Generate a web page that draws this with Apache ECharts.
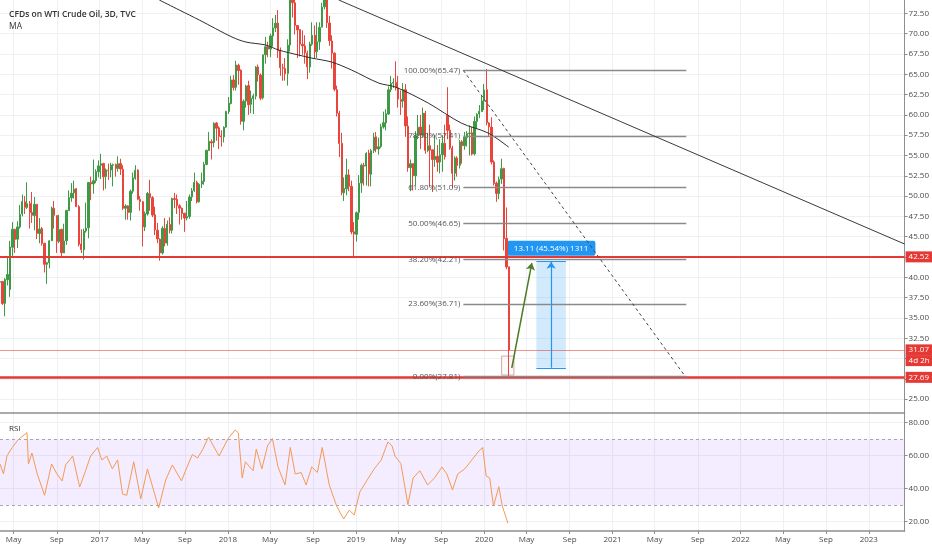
<!DOCTYPE html>
<html>
<head>
<meta charset="utf-8">
<script src="https://cdn.jsdelivr.net/npm/echarts@6/dist/echarts.min.js"></script>
<style>
  html, body { margin: 0; padding: 0; background: #fff; }
  #chart { width: 932px; height: 550px; }
</style>
</head>
<body>
<div id="chart"></div>
<script>
// weekly candles [open, close, low, high]; each block starts on the Monday in weekStarts
const weekStarts = ['2016-03-21', '2017-01-02', '2018-01-01', '2019-01-07', '2020-01-06'];

const w2016 = [
  [39.4,39.46,38.9,41.2],[39.5,36.79,36.6,39.5],[36.8,39.72,35.2,39.9],[39.7,40.36,39.0,42.4],
  [38.5,43.73,37.6,44.5],[43.7,45.92,42.6,46.8],[45.9,44.66,43.0,46.0],[44.7,46.21,43.6,46.9],
  [46.2,47.75,46.0,48.9],[47.8,49.33,47.5,50.2],[49.3,48.62,47.8,50.0],[48.6,49.07,48.4,51.7],
  [49.1,47.98,46.0,49.4],[48.0,47.64,46.7,50.5],[47.6,48.99,45.8,49.9],[49.0,45.41,44.7,49.0],
  [45.4,45.95,44.2,47.3],[46.0,44.19,43.9,46.2],[44.2,41.60,40.6,44.2],[41.6,41.80,39.2,41.9],
  [41.8,44.49,41.1,44.6],[44.5,48.52,44.5,48.7],[48.5,47.64,46.0,49.4],[47.6,44.44,43.0,47.6],
  [44.4,45.88,44.2,47.7],[45.9,43.03,42.6,46.0],[43.0,44.48,43.0,46.6],[44.5,48.24,44.0,48.3],
  [48.2,49.81,48.2,50.7],[49.8,50.35,49.3,51.6],[50.4,50.85,49.7,51.9],[50.9,48.70,48.7,51.0],
  [48.7,44.07,43.8,48.9],[44.1,43.41,43.0,45.9],[43.4,45.69,42.2,46.0],[45.7,46.06,45.5,49.2],
  [46.1,51.68,44.8,51.7],[51.7,51.50,49.5,52.4],[51.5,51.90,50.3,54.5],[51.9,53.02,51.6,53.3],
  [53.0,53.72,52.3,54.4]
];
const w2017 = [
  [53.8,53.99,52.1,55.2],[54.0,52.37,50.7,54.1],[52.4,53.22,50.9,53.4],[53.2,53.17,52.0,54.0],
  [53.2,53.83,52.3,54.1],[53.8,53.86,51.2,54.0],[53.9,53.40,52.4,54.0],[53.4,53.99,53.0,54.9],
  [54.0,53.33,52.6,54.6],[53.3,48.49,48.3,53.8],[48.5,48.78,47.1,49.0],[48.8,47.97,47.1,48.9],
  [48.0,50.60,47.0,50.8],[50.6,52.24,50.3,52.9],[52.2,53.18,52.0,53.8],[53.2,49.62,49.5,53.3],
  [49.6,49.33,48.2,50.0],[49.3,46.22,43.8,49.4],[46.2,47.84,45.7,48.1],[47.8,50.33,47.6,50.5],
  [50.3,49.80,48.2,52.0],[49.8,47.66,47.4,50.0],[47.7,45.83,45.2,48.7],[45.8,44.74,44.2,46.7],
  [44.7,43.01,42.05,44.8],[43.0,46.04,42.8,46.3],[46.0,44.23,43.8,47.3],[44.2,46.54,43.9,47.0],
  [46.5,45.77,45.4,47.4],[45.8,49.71,45.4,49.8],[49.7,49.58,48.5,50.4],[49.6,48.82,47.8,50.2],
  [48.8,48.51,46.5,49.0],[48.5,47.87,47.1,48.6],[47.9,47.29,45.6,47.9],[47.3,47.48,47.0,49.4],
  [47.5,49.89,47.2,50.2],[49.9,50.66,49.4,51.0],[50.7,51.67,50.5,52.9],[51.7,49.29,49.1,51.9],
  [49.3,51.45,49.2,51.6],[51.5,51.84,51.0,52.9],[51.8,53.90,51.4,54.2],[53.9,55.64,53.8,55.7],
  [55.6,56.74,55.6,57.9],[56.7,56.55,54.5,57.0],[56.6,58.95,56.0,59.1],[59.0,58.36,56.8,59.1],
  [58.4,57.36,55.8,58.6],[57.4,57.30,56.1,58.1],[57.3,58.47,56.6,58.6],[58.5,60.42,58.4,60.5]
];
const w2018 = [
  [60.4,61.44,60.1,62.2],[61.4,64.30,61.3,64.8],[64.3,63.37,63.0,64.9],[63.4,66.14,63.0,66.66],
  [66.1,65.45,63.7,66.3],[65.5,59.20,58.8,65.6],[59.2,61.68,58.1,61.9],[61.7,63.55,60.9,63.7],
  [63.6,61.25,60.0,64.2],[61.3,62.04,60.2,63.0],[62.0,62.34,60.1,62.6],[62.3,65.88,61.9,66.0],
  [65.9,64.94,64.1,66.2],[64.9,62.06,61.8,65.1],[62.1,67.39,61.9,67.4],[67.4,68.38,66.3,69.6],
  [68.4,68.10,67.1,69.0],[68.1,69.72,67.1,70.0],[69.7,70.70,68.4,71.9],[70.7,71.28,70.2,72.3],
  [71.3,67.88,67.0,72.9],[67.9,65.81,64.8,68.3],[65.8,65.74,64.2,66.3],[65.7,65.06,64.2,67.0],
  [65.1,68.58,63.6,69.3],[68.6,74.15,67.8,74.5],[74.2,73.80,72.0,75.3],[73.8,71.01,69.9,74.7],
  [71.0,70.46,67.0,71.0],[70.5,68.69,67.2,70.5],[68.7,68.49,67.4,70.4],[68.5,67.63,66.3,69.8],
  [67.6,65.91,64.4,67.9],[65.9,68.72,65.2,69.0],[68.7,69.80,68.5,71.4],[69.8,67.75,66.9,71.0],
  [67.8,68.99,67.0,71.4],[69.0,70.78,68.0,71.4],[70.8,73.25,70.8,73.8],[73.3,74.34,73.0,76.9],
  [74.3,71.34,70.7,75.9],[71.3,69.12,68.5,72.2],[69.1,67.59,65.7,69.8],[67.6,63.14,62.9,67.7],
  [63.1,60.19,59.8,63.6],[60.2,56.46,54.8,60.5],[56.5,50.42,50.1,57.8],[50.4,50.93,49.4,52.3],
  [50.9,52.61,50.1,54.6],[52.6,51.20,50.6,53.3],[51.2,45.59,45.3,51.9],[45.6,45.33,42.36,46.8],
  [45.3,47.96,44.4,48.1]
];
const w2019 = [
  [48.0,51.59,47.1,52.6],[51.6,53.80,50.4,54.0],[53.8,53.69,51.3,54.1],[53.7,55.26,51.3,55.4],
  [55.3,52.72,51.2,55.7],[52.7,55.59,51.2,55.8],[55.6,57.26,55.3,57.8],[57.3,55.80,55.4,57.9],
  [55.8,56.07,55.1,57.2],[56.1,58.52,55.9,58.9],[58.5,59.04,58.3,60.4],[59.0,60.14,58.1,60.7],
  [60.1,63.08,60.0,63.5],[63.1,63.89,62.8,64.8],[63.9,64.00,63.3,64.5],[64.0,63.30,63.0,66.6],
  [63.3,61.94,60.9,64.8],[61.9,61.66,60.0,63.0],[61.7,63.10,60.9,63.9],[63.1,58.63,57.3,63.8],
  [58.6,53.50,53.0,59.8],[53.5,53.99,50.6,54.5],[54.0,52.51,50.7,54.0],[52.5,57.43,51.3,58.0],
  [57.4,58.47,57.0,60.0],[58.5,57.51,55.8,60.0],[57.5,60.21,57.2,60.9],[60.2,55.63,55.2,60.5],
  [55.6,56.20,55.4,57.8],[56.2,55.66,51.2,58.8],[55.7,54.50,50.5,55.7],[54.5,54.87,53.6,57.5],
  [54.9,54.17,53.0,56.3],[54.2,55.10,52.8,57.0],[55.1,56.52,53.0,57.5],[56.5,54.85,54.5,58.8],
  [59.9,58.09,57.0,63.4],[58.1,55.91,55.7,58.8],[55.9,52.81,51.0,56.2],[52.8,54.70,51.9,54.9],
  [54.7,53.78,52.4,54.9],[53.8,56.66,53.4,56.9],[56.7,56.20,54.0,56.9],[56.2,57.24,55.7,57.9],
  [57.2,57.72,56.1,58.0],[57.7,57.77,55.0,58.7],[57.8,55.17,55.0,58.5],[55.2,59.20,55.0,59.8],
  [59.2,60.07,58.3,60.2],[60.1,60.44,59.6,61.2],[60.4,61.72,60.4,62.3],[61.7,63.05,60.6,63.8]
];
const w2020 = [
  [63.1,59.04,58.7,65.65],[59.0,58.54,57.4,59.1],[58.5,54.19,53.9,59.7],[54.2,51.56,51.3,54.4],
  [51.6,50.32,49.3,51.8],[50.3,52.05,49.6,52.4],[52.1,53.38,51.5,54.6],[53.4,44.76,43.3,53.5],
  [44.8,41.28,41.0,48.6],[41.3,31.07,27.81,41.3]
];

// curve labelled "MA"
const maDates = ['2017-06-20','2017-08-16','2017-10-12','2018-01-13','2018-02-22','2018-04-19',
  '2018-05-26','2018-07-22','2018-08-28','2018-10-24','2018-12-20','2019-03-07','2019-04-24',
  '2019-07-26','2019-10-28','2020-01-13','2020-03-11'];
const maValues = [74.13,72.9,71.67,69.58,68.96,68.6,67.98,67.36,66.99,66.5,65.51,63.91,63.42,
  61.45,58.99,57.76,56.03];

// RSI
const rsiDates = ['2016-03-23','2016-04-02','2016-04-12','2016-04-27','2016-05-13','2016-05-21',
  '2016-06-08','2016-06-12','2016-06-22','2016-07-07','2016-07-28','2016-08-17','2016-09-01',
  '2016-09-16','2016-09-26','2016-10-16','2016-11-05','2016-11-22','2016-12-06','2016-12-26',
  '2017-01-07','2017-01-21','2017-02-06','2017-02-21','2017-03-07','2017-03-19','2017-04-08',
  '2017-04-28','2017-05-17','2017-06-18','2017-07-08','2017-07-27','2017-08-22','2017-09-07',
  '2017-09-22','2017-10-07','2017-10-22','2017-11-07','2017-11-21','2017-12-07',
  '2018-01-02','2018-01-22','2018-01-31','2018-02-11','2018-02-20','2018-03-14','2018-03-23',
  '2018-04-08','2018-04-24','2018-05-08','2018-05-24','2018-06-13','2018-06-28','2018-07-12',
  '2018-07-29','2018-08-12','2018-08-28','2018-09-13','2018-09-27','2018-10-17','2018-11-07',
  '2018-11-27','2018-12-13','2018-12-27',
  '2019-01-12','2019-02-02','2019-02-22','2019-03-14','2019-04-02','2019-04-14','2019-04-22',
  '2019-05-09','2019-05-29','2019-06-13','2019-07-02','2019-07-24','2019-08-13','2019-09-03',
  '2019-09-17','2019-10-03','2019-10-18','2019-11-07','2019-11-27','2019-12-17','2019-12-28',
  '2020-01-07','2020-01-17','2020-01-28','2020-02-12','2020-02-22','2020-03-09'];
const rsiValues = [55,49,60,65,69.5,71,74,55,61.6,49,36,55,49,44.7,54.4,59.8,41,51,59.8,65,
  57.4,59.8,52,57.4,36.8,36,56.3,33.8,52,28.3,45.3,54.4,44.7,53.2,60.7,58.6,64,71.3,65.9,59.8,
  70.4,75.6,73.8,46.5,56.3,50.9,64,52,65.9,70.4,53.2,42.3,65,48.9,49.8,42.3,53.2,49.8,65,42.3,
  29.5,21.6,27,24,
  38,45.3,52,57.4,68.3,65.9,59.8,55.2,30.4,46.5,50.9,42.3,46.5,53.2,48.9,39.2,48.9,52,57.4,
  62.8,65,
  47.7,46.5,29.5,41.2,29.5,19];

// fibonacci retracement drawing
const fibLevels = ['100.00%', '78.60%', '61.80%', '50.00%', '38.20%', '23.60%', '0.00%'];
const fibPrices = [65.47, 57.41, 51.09, 46.65, 42.21, 36.71, 27.81];
const fibSpan = ['2019-11-03', '2021-07-30'];

// other drawings: [date, price] anchors
const trendLine = [['2018-11-13', 74.14], ['2023-04-13', 44.1]];
const fibDiagonal = [['2019-11-03', 65.47], ['2021-07-27', 27.81]];
const greenArrow = [['2020-03-20', 28.84], ['2020-05-16', 41.76]];
const rangeBox = [['2020-05-29', 41.92], ['2020-08-21', 28.87]];
const rangeMid = '2020-07-10';
const rangeText = '13.11 (45.54%) 1311';
const candleBox = [['2020-02-20', 30.31], ['2020-03-26', 27.97]];

const levelSupport = 27.69, levelResist = 42.52, lastPrice = 31.07, countdownAt = 29.75;

// axis ticks
const xTickDates = ['2016-05-01','2016-09-01','2017-01-01','2017-05-01','2017-09-01','2018-01-01',
  '2018-05-01','2018-09-01','2019-01-01','2019-05-01','2019-09-01','2020-01-01','2020-05-01',
  '2020-09-01','2021-01-01','2021-05-01','2021-09-01','2022-01-01','2022-05-01','2022-09-01',
  '2023-01-01'];
const priceTicks = [25, 27.5, 30, 32.5, 35, 37.5, 40, 42.5, 45, 47.5, 50, 52.5, 55, 57.5, 60,
  62.5, 65, 67.5, 70, 72.5];
const rsiTicks = [20, 40, 60, 80];

const DAY = 86400000;
function t(s) { return Date.parse(s + 'T00:00:00Z'); }

const candleData = [];
[w2016, w2017, w2018, w2019, w2020].forEach(function (rows, k) {
  const t0 = t(weekStarts[k]);
  rows.forEach(function (r, i) {
    candleData.push([t0 + (i * 7 + 2.5) * DAY, r[0], r[1], r[2], r[3]]);
  });
});
const maData = maDates.map(function (d, i) { return [t(d), maValues[i]]; });
const rsiData = rsiDates.map(function (d, i) { return [t(d), rsiValues[i]]; });
const xTicks = xTickDates.map(t);

const font = '"Open Sans", "Noto Sans", sans-serif';
const textGrey = '#4a4a4a';
const gridColor = '#eef0f4';
const axisColor = '#8e8e8e';
const red = '#e53935';
const blue = '#2196f3';

function seg(a, b, extra) {
  const start = Object.assign({ coord: [t(a[0]), a[1]] }, extra || {});
  return [start, { coord: [t(b[0]), b[1]] }];
}

function priceTag(value, text, lineStyle) {
  return {
    yAxis: value,
    lineStyle: lineStyle,
    label: {
      show: true, position: 'end', distance: 1, formatter: text,
      color: '#fff', backgroundColor: red, padding: [2, 3, 1, 3],
      fontSize: 8, fontFamily: font
    }
  };
}

const fibLines = fibPrices.map(function (p, i) {
  return seg([fibSpan[0], p], [fibSpan[1], p], {
    lineStyle: { color: '#8a8a8a', width: 1.3, type: 'solid' },
    label: {
      show: true, position: 'start', distance: 3,
      formatter: fibLevels[i] + '(' + p.toFixed(2) + ')',
      color: '#555', fontSize: 8, fontFamily: font
    }
  });
});

const drawLines = [
  seg(trendLine[0], trendLine[1], { lineStyle: { color: '#3a3a3a', width: 1, type: 'solid' } }),
  seg(fibDiagonal[0], fibDiagonal[1], { lineStyle: { color: '#444', width: 1, type: [3, 3] } }),
  [
    { coord: [t(greenArrow[0][0]), greenArrow[0][1]], symbol: 'none',
      lineStyle: { color: '#4b7d24', width: 1.5, type: 'solid' } },
    { coord: [t(greenArrow[1][0]), greenArrow[1][1]], symbol: 'arrow', symbolSize: 7 }
  ],
  seg([rangeBox[0][0], rangeBox[0][1]], [rangeBox[1][0], rangeBox[0][1]],
    { lineStyle: { color: blue, width: 1, type: 'solid' } }),
  seg([rangeBox[0][0], rangeBox[1][1]], [rangeBox[1][0], rangeBox[1][1]],
    { lineStyle: { color: blue, width: 1, type: 'solid' } }),
  [
    { coord: [t(rangeMid), rangeBox[1][1]], symbol: 'none',
      lineStyle: { color: blue, width: 1.2, type: 'solid' } },
    { coord: [t(rangeMid), rangeBox[0][1]], symbol: 'arrow', symbolSize: 7 }
  ]
];

const chart = echarts.init(document.getElementById('chart'), null, { renderer: 'canvas' });

const option = {
  animation: false,
  backgroundColor: '#fff',
  title: [
    { text: 'CFDs on WTI Crude Oil, 3D, TVC', left: 4, top: 5,
      textStyle: { fontSize: 8.5, fontWeight: 600, color: '#333', fontFamily: font } },
    { text: 'MA', left: 4, top: 17,
      textStyle: { fontSize: 8.5, fontWeight: 500, color: '#333', fontFamily: font } },
    { text: 'RSI', left: 4, top: 420,
      textStyle: { fontSize: 8, fontWeight: 500, color: '#333', fontFamily: font } }
  ],
  grid: [
    { left: 0, right: 25, top: 0, height: 413 },
    { left: 0, right: 25, top: 413, height: 118 }
  ],
  xAxis: [
    {
      gridIndex: 0, type: 'value', min: t('2016-03-23'), max: t('2023-04-13'),
      axisLine: { show: true, onZero: false, lineStyle: { color: axisColor, width: 1.5 } },
      axisTick: { show: false, customValues: xTicks },
      axisLabel: { show: false, customValues: xTicks },
      splitLine: { show: true, lineStyle: { color: gridColor, width: 1 } }
    },
    {
      gridIndex: 1, type: 'value', min: t('2016-03-23'), max: t('2023-04-13'),
      axisLine: { show: true, onZero: false, lineStyle: { color: axisColor, width: 1.5 } },
      axisTick: { show: true, length: 3, customValues: xTicks, lineStyle: { color: axisColor } },
      axisLabel: {
        customValues: xTicks, margin: 5, fontSize: 8, color: textGrey, fontFamily: font,
        formatter: function (v) {
          const d = new Date(v);
          const m = d.getUTCMonth();
          if (m === 0) return String(d.getUTCFullYear());
          return m === 4 ? 'May' : 'Sep';
        }
      },
      splitLine: { show: true, lineStyle: { color: gridColor, width: 1 } }
    }
  ],
  yAxis: [
    {
      gridIndex: 0, type: 'value', position: 'right', min: 23.3, max: 74.14, scale: true,
      axisLine: { show: true, lineStyle: { color: axisColor, width: 1 } },
      axisTick: { show: true, length: 3, customValues: priceTicks, lineStyle: { color: axisColor } },
      axisLabel: {
        customValues: priceTicks, margin: 4, fontSize: 8, color: textGrey, fontFamily: font,
        formatter: function (v) { return v.toFixed(2); }
      },
      splitLine: { show: true, lineStyle: { color: gridColor, width: 1 } }
    },
    {
      gridIndex: 1, type: 'value', position: 'right', min: 14.36, max: 85.88, scale: true,
      axisLine: { show: true, lineStyle: { color: axisColor, width: 1 } },
      axisTick: { show: true, length: 3, customValues: rsiTicks, lineStyle: { color: axisColor } },
      axisLabel: {
        customValues: rsiTicks, margin: 4, fontSize: 8, color: textGrey, fontFamily: font,
        formatter: function (v) { return v.toFixed(2); }
      },
      splitLine: { show: true, lineStyle: { color: gridColor, width: 1 } }
    }
  ],
  series: [
    {
      name: 'WTI',
      type: 'candlestick',
      xAxisIndex: 0, yAxisIndex: 0,
      data: candleData,
      encode: { x: 0, y: [1, 2, 3, 4] },
      barWidth: 1.8,
      clip: true,
      itemStyle: {
        color: '#3f9a46', color0: '#e8453c',
        borderColor: '#3f9a46', borderColor0: '#e8453c', borderWidth: 1
      },
      markArea: {
        silent: true,
        data: [
          [
            { coord: [t(rangeBox[0][0]), rangeBox[0][1]],
              itemStyle: { color: 'rgba(33,150,243,0.2)' },
              label: {
                show: true, position: 'top', distance: 6, formatter: rangeText,
                color: '#fff', backgroundColor: blue, borderRadius: 2,
                padding: [4, 7, 3, 7], fontSize: 8, fontFamily: font
              } },
            { coord: [t(rangeBox[1][0]), rangeBox[1][1]] }
          ],
          [
            { coord: [t(candleBox[0][0]), candleBox[0][1]],
              itemStyle: { color: 'rgba(255,240,240,0.35)', borderColor: 'rgba(205,160,160,0.9)', borderWidth: 1 },
              label: { show: false } },
            { coord: [t(candleBox[1][0]), candleBox[1][1]] }
          ]
        ]
      },
      markLine: {
        silent: true,
        symbol: ['none', 'none'],
        precision: 2,
        label: { show: false },
        data: [
          priceTag(levelResist, levelResist.toFixed(2), { color: red, width: 2, type: 'solid' }),
          priceTag(lastPrice, lastPrice.toFixed(2), { color: 'rgba(229,57,53,0.55)', width: 1, type: 'solid' }),
          priceTag(countdownAt, '4d 2h', { color: 'rgba(255,255,255,0)', width: 0.1, type: 'solid' }),
          priceTag(levelSupport, levelSupport.toFixed(2), { color: red, width: 2.5, type: 'solid' })
        ].concat(fibLines, drawLines)
      }
    },
    {
      name: 'MA',
      type: 'line',
      xAxisIndex: 0, yAxisIndex: 0,
      data: maData,
      smooth: 0.3,
      showSymbol: false,
      clip: true,
      lineStyle: { color: '#2e2e2e', width: 1 }
    },
    {
      name: 'RSI',
      type: 'line',
      xAxisIndex: 1, yAxisIndex: 1,
      data: rsiData,
      showSymbol: false,
      lineStyle: { color: '#f39a55', width: 1 },
      markArea: {
        silent: true,
        itemStyle: { color: 'rgba(180,120,255,0.14)' },
        data: [[{ yAxis: 30 }, { yAxis: 70 }]]
      },
      markLine: {
        silent: true,
        symbol: ['none', 'none'],
        label: { show: false },
        lineStyle: { color: '#a8a8a8', width: 1, type: [3, 3] },
        data: [{ yAxis: 70 }, { yAxis: 30 }]
      }
    }
  ]
};

chart.setOption(option);
</script>
</body>
</html>
